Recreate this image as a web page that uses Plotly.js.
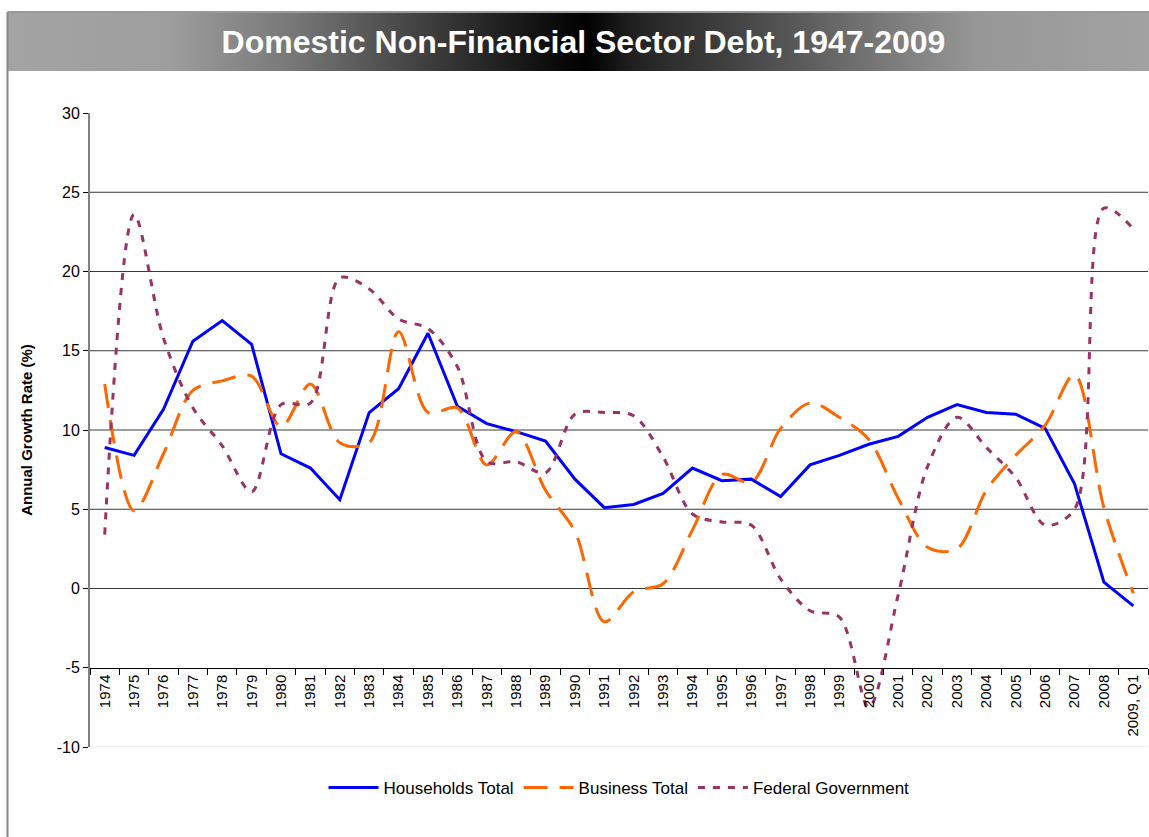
<!DOCTYPE html>
<html>
<head>
<meta charset="utf-8">
<script src="https://cdn.plot.ly/plotly-3.0.1.min.js"></script>
<style>
html,body{margin:0;padding:0;background:#fff;}
#chart{width:1149px;height:837px;}
</style>
</head>
<body>
<div id="chart"></div>
<script>
// ---- data ----
const years = ['1974','1975','1976','1977','1978','1979','1980','1981','1982','1983',
  '1984','1985','1986','1987','1988','1989','1990','1991','1992','1993',
  '1994','1995','1996','1997','1998','1999','2000','2001','2002','2003',
  '2004','2005','2006','2007','2008','2009, Q1'];

const householdsTotal = [8.9, 8.4, 11.3, 15.6, 16.9, 15.4, 8.5, 7.6, 5.6, 11.1,
  12.6, 16.1, 11.5, 10.4, 9.9, 9.3, 6.9, 5.1, 5.3, 6.0,
  7.6, 6.8, 6.9, 5.8, 7.8, 8.4, 9.1, 9.6, 10.8, 11.6,
  11.1, 11.0, 10.1, 6.6, 0.4, -1.1];

const businessTotal = [12.9, 4.9, 8.5, 12.5, 13.1, 13.4, 10.2, 12.9, 9.2, 9.2,
  16.2, 11.1, 11.4, 7.8, 9.9, 6.2, 3.6, -2.1, -0.2, 0.3,
  3.7, 7.2, 6.7, 10.1, 11.7, 10.8, 9.4, 5.7, 2.6, 2.5,
  6.2, 8.4, 10.3, 13.5, 5.1, -0.3];

const federalGovernment = [3.4, 23.6, 15.8, 11.4, 9.0, 6.1, 11.6, 11.7, 19.6, 18.9,
  17.0, 16.4, 14.0, 8.0, 8.0, 7.3, 11.0, 11.1, 10.9, 8.3,
  4.7, 4.2, 4.0, 0.6, -1.4, -1.8, -7.5, -0.4, 7.7, 10.8,
  8.9, 7.0, 4.0, 5.0, 24.0, 22.7];

const seriesNames = ['Households Total', 'Business Total', 'Federal Government'];
const yTickVals = [-10, -5, 0, 5, 10, 15, 20, 25, 30];
const gridVals = [0, 5, 10, 15, 20, 25];
const chartTitle = 'Domestic Non-Financial Sector Debt, 1947-2009';
const yTitle = 'Annual Growth Rate (%)';

// ---- geometry ----
const W = 1149, H = 837;
const M = {l: 90, r: 1, t: 113, b: 90};
const PW = W - M.l - M.r, PH = H - M.t - M.b;
const px = x => (x - M.l) / PW;
const py = y => (H - M.b - y) / PH;

const FONT = 'Liberation Sans, Arial, sans-serif';

const traces = [
  {x: years, y: householdsTotal, name: seriesNames[0], type: 'scatter', mode: 'lines',
   line: {color: '#0000FF', width: 3, shape: 'linear'}},
  {x: years, y: businessTotal, name: seriesNames[1], type: 'scatter', mode: 'lines',
   line: {color: '#FF6600', width: 3, shape: 'spline', smoothing: 0.9, dash: '24px,12px'}},
  {x: years, y: federalGovernment, name: seriesNames[2], type: 'scatter', mode: 'lines',
   line: {color: '#993366', width: 3, shape: 'spline', smoothing: 0.9, dash: '7px,8px'}}
];

const gradSvg = "<svg xmlns='http://www.w3.org/2000/svg' width='1141' height='59' preserveAspectRatio='none'>" +
  "<defs><linearGradient id='g' x1='0' x2='1' y1='0' y2='0'>" +
  "<stop offset='0' stop-color='#a4a4a4'/>" +
  "<stop offset='0.14' stop-color='#9e9e9e'/>" +
  "<stop offset='0.25' stop-color='#777777'/>" +
  "<stop offset='0.38' stop-color='#383838'/>" +
  "<stop offset='0.45' stop-color='#181818'/>" +
  "<stop offset='0.507' stop-color='#000000'/>" +
  "<stop offset='0.55' stop-color='#222222'/>" +
  "<stop offset='0.64' stop-color='#444444'/>" +
  "<stop offset='0.77' stop-color='#7a7a7a'/>" +
  "<stop offset='0.85' stop-color='#979797'/>" +
  "<stop offset='1' stop-color='#a2a2a2'/>" +
  "</linearGradient></defs><rect x='0' y='0' width='1141' height='59' fill='url(#g)'/></svg>";
const gradSrc = 'data:image/svg+xml;charset=utf-8,' + encodeURIComponent(gradSvg);

const shapes = gridVals.map(v => ({
  type: 'line', xref: 'paper', yref: 'y', x0: 0, x1: 1, y0: v, y1: v,
  line: {color: '#3a3a3a', width: 1}, layer: 'below'
}));
// bottom border of plot area
shapes.push({type: 'line', xref: 'paper', yref: 'y', x0: 0, x1: 1, y0: -10, y1: -10,
  line: {color: '#e2e2e2', width: 1}, layer: 'below'});
// chart frame: left and top
shapes.push({type: 'line', xref: 'paper', yref: 'paper', x0: px(7.5), x1: px(7.5), y0: py(12), y1: py(840),
  line: {color: '#888888', width: 2}});
shapes.push({type: 'line', xref: 'paper', yref: 'paper', x0: px(7.5), x1: px(1152), y0: py(12), y1: py(12),
  line: {color: '#999999', width: 2}});

const layout = {
  width: W, height: H,
  margin: M,
  paper_bgcolor: '#ffffff', plot_bgcolor: '#ffffff',
  font: {family: FONT, color: '#000'},
  showlegend: true,
  title: {
    text: '<b>' + chartTitle + '</b>',
    font: {family: FONT, size: 32, color: '#ffffff'},
    xref: 'container', yref: 'container',
    x: 583.5 / W, xanchor: 'center',
    y: 1 - 42 / H, yanchor: 'middle'
  },
  images: [{
    source: gradSrc, xref: 'paper', yref: 'paper',
    x: px(8), y: py(13), sizex: px(1149) - px(8), sizey: py(13) - py(71),
    xanchor: 'left', yanchor: 'top', sizing: 'stretch', layer: 'below'
  }],
  xaxis: {
    type: 'category', range: [-0.5, years.length - 0.5],
    anchor: 'free', position: (-5 - (-10)) / 40,
    showline: true, linecolor: '#000', linewidth: 1,
    ticks: 'outside', ticklen: 6, tickcolor: '#000', tickwidth: 1,
    tickson: 'boundaries', tickangle: -90,
    tickfont: {family: FONT, size: 15, color: '#000'},
    showgrid: false, zeroline: false, fixedrange: true
  },
  yaxis: {
    range: [-10, 30], tickvals: yTickVals, ticktext: yTickVals.map(String),
    showline: true, linecolor: '#808080', linewidth: 2,
    ticks: 'outside', ticklen: 5, tickcolor: '#000', tickwidth: 1,
    tickfont: {family: FONT, size: 16, color: '#000'},
    showgrid: false, zeroline: false, fixedrange: true,
    title: {text: '<b>' + yTitle + '</b>', font: {family: FONT, size: 15, color: '#000'}, standoff: 20}
  },
  legend: {
    orientation: 'h', x: 0.5, xanchor: 'center', y: py(788), yanchor: 'middle',
    font: {family: FONT, size: 17, color: '#000'},
    bgcolor: 'rgba(0,0,0,0)', itemwidth: 50, tracegroupgap: 0
  },
  shapes: shapes
};

Plotly.newPlot('chart', traces, layout, {displayModeBar: false, staticPlot: true});
</script>
</body>
</html>
